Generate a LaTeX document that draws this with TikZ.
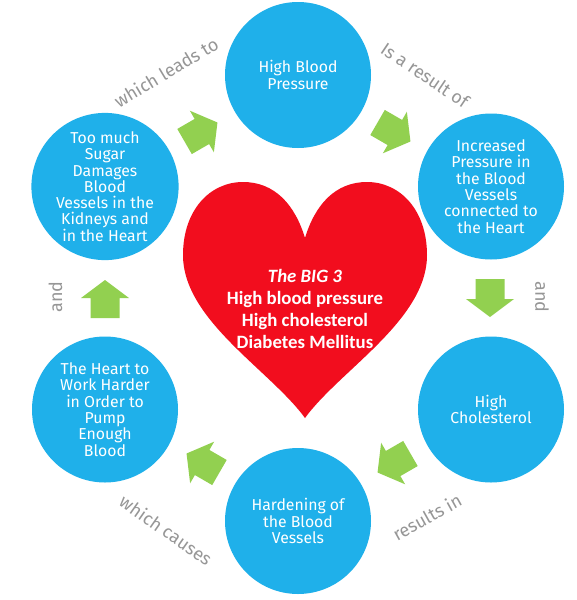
\documentclass[tikz,border=0pt]{standalone}
\usepackage{fontspec}
\setmainfont{Fira Sans}
\newfontfamily\heartfont{Carlito}
\definecolor{bubbleblue}{RGB}{31,176,234}
\definecolor{arrowgreen}{RGB}{146,208,80}
\definecolor{heartred}{RGB}{242,13,30}
\definecolor{labelgray}{RGB}{150,150,150}
\begin{document}
\begin{tikzpicture}[x=1pt,y=-1pt,
 bubble/.style={circle, fill=bubbleblue, minimum size=146pt, inner sep=0pt, text=white, align=center, font=\fontsize{15.8}{16.3}\selectfont},
 linklabel/.style={text=labelgray, font=\fontsize{18}{20}\selectfont, inner sep=0pt},
 bigarrow/.pic={\fill[arrowgreen] (-19,-14.5) -- (1,-14.5) -- (1,-24) -- (19,0) -- (1,24) -- (1,14.5) -- (-19,14.5) -- cycle;}
]
\fill[white] (0,0) rectangle (577,600);
\useasboundingbox (0,0) rectangle (577,600);

% heart
\fill[heartred] (305,418) .. controls (340,370) and (427,320) .. (427,255)
  .. controls (427,210) and (400,182) .. (367,182)
  .. controls (335,182) and (315,205) .. (305,238)
  .. controls (295,205) and (275,182) .. (243,182)
  .. controls (210,182) and (183,210) .. (183,255)
  .. controls (183,320) and (270,370) .. (305,418) -- cycle;
\node[text=white, align=center, inner sep=0pt, font=\heartfont\bfseries\fontsize{18.8}{22.3}\selectfont] (big3) at (305,309)
  {\itshape The BIG 3\\High blood pressure\\High cholesterol\\Diabetes Mellitus};

% circles
\node[bubble] (hbp) at (298,75) {High Blood\\Pressure};
\node[bubble] (inc) at (491,186.5) {Increased\\Pressure in\\the Blood\\Vessels\\connected to\\the Heart};
\node[bubble] (chol) at (491,409.5) {High\\Cholesterol};
\node[bubble] (hard) at (298,521) {Hardening of\\the Blood\\Vessels};
\node[bubble] (work) at (105,409.5) {The Heart to\\Work Harder\\in Order to\\Pump\\Enough\\Blood};
\node[bubble] (sugar) at (105,186.5) {Too much\\Sugar\\Damages\\Blood\\Vessels in the\\Kidneys and\\in the Heart};

% arrows
\pic[rotate=-90] (a1) at (490,298) {bigarrow};
\pic[rotate=-30] (a2) at (394,132) {bigarrow};
\pic[rotate=30] (a3) at (201,132) {bigarrow};
\pic[rotate=90] (a4) at (105,299) {bigarrow};
\pic[rotate=150] (a5) at (203,463) {bigarrow};
\pic[rotate=210] (a6) at (394,463) {bigarrow};

% labels
\node[linklabel, rotate=31] (l1) at (166,72) {which leads to};
\node[linklabel, rotate=-34] (l2) at (425,75) {Is a result of};
\node[linklabel, rotate=-90] (l3) at (542,297) {and};
\node[linklabel, rotate=29] (l4) at (427,517) {results in};
\node[linklabel, rotate=-35] (l5) at (166,530) {which causes};
\node[linklabel, rotate=90] (l6) at (55.5,297) {and};
\end{tikzpicture}
\end{document}
